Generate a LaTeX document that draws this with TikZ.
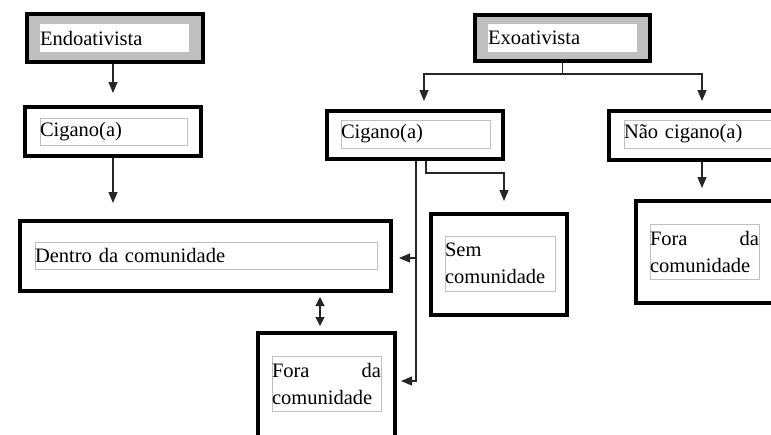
\documentclass[tikz,border=0pt]{standalone}
\usepackage{fontspec}
\setmainfont{Liberation Serif}
\usetikzlibrary{arrows.meta,positioning,calc}

\begin{document}
\begin{tikzpicture}[x=1pt,y=-1pt,
    outer/.style={draw=black,line width=4pt,fill=white,inner sep=0pt},
    head/.style={outer,fill=black!25},
    txt/.style={draw=black!25,line width=0.8pt,fill=white,inner sep=0pt,align=left,
        font=\fontsize{20.5}{27}\selectfont},
    link/.style={line width=1.2pt,black!85},
    arr/.style={link,-{Triangle[length=11pt,width=9pt]}},
    arrs/.style={link,{Triangle[length=9pt,width=9pt]}-{Triangle[length=9pt,width=9pt]}}]
    \useasboundingbox (0,0) rectangle (771,434);
    \clip (0,0) rectangle (771,434);

    % Heads
    \node[head,minimum width=176pt,minimum height=48pt] (endo) at (115,38) {};
    \node[txt,draw=none,text width=149pt,minimum height=28pt] (endoT) at (114.5,38) {Endoativista};
    \node[head,minimum width=175pt,minimum height=46pt] (exo) at (562.5,38) {};
    \node[txt,draw=none,text width=149pt,minimum height=28pt] (exoT) at (562.5,38) {Exoativista};

    % Second row
    \node[outer,minimum width=176pt,minimum height=49pt] (cigL) at (113,131.5) {};
    \node[txt,text width=147pt,minimum height=27pt] (cigLT) at (113.5,131.5) {Cigano(a)};
    \node[outer,minimum width=176pt,minimum height=48pt] (cigM) at (415,135) {};
    \node[txt,text width=149pt,minimum height=28pt] (cigMT) at (415.5,134) {Cigano(a)};
    \node[outer,minimum width=180pt,minimum height=49pt] (nao) at (699,135.5) {};
    \node[txt,text width=160pt,minimum height=28pt] (naoT) at (704,134) {Não cigano(a)};

    % Third row
    \node[outer,minimum width=371pt,minimum height=70pt] (dentro) at (205.5,256) {};
    \node[txt,text width=342pt,minimum height=27pt] (dentroT) at (206,255.5) {Dentro da comunidade};
    \node[outer,minimum width=136pt,minimum height=101pt] (sem) at (499,264.5) {};
    \node[txt,text width=110pt,minimum height=55pt] (semT) at (500,263.5) {Sem\\comunidade};
    \node[outer,minimum width=137pt,minimum height=102pt] (foraR) at (704.5,252) {};
    \node[txt,text width=109pt,minimum height=55pt] (foraRT) at (704.5,251.5) {Fora\hfill da\\comunidade};

    % Bottom
    \node[outer,minimum width=137pt,minimum height=120pt] (foraL) at (326.5,393) {};
    \node[txt,text width=109pt,minimum height=55pt] (foraLT) at (326.5,383.5) {Fora\hfill da\\comunidade};

    % Endoativista branch
    \draw[arr] (endo.south -| cigL.north) -- ($(cigL.north)+(0,-12)$);
    \draw[arr] (cigL.south) -- ($(cigL.south |- dentro.north)+(0,-16)$);

    % Exoativista branch
    \coordinate (exoJ) at ($(exo.south)+(0,11)$);
    \draw[link] (exo.south) -- (exoJ);
    \draw[arr] (exoJ) -| ($(cigM.north)+(9,-8)$);
    \draw[arr] (exoJ) -| ($(nao.north)+(3,-8)$);
    \draw[arr] ($(nao.south)+(3,0)$) -- ($(nao.south |- foraR.north)+(3,-11)$);

    % From Cigano(a)
    \coordinate (trunk) at ($(cigM.south)+(1,0)$);
    \draw[arr] (trunk) |- ($(foraL.north east)+(4,50)$);
    \draw[arr] ($(trunk |- dentro.east)+(0,2)$) -- ($(dentro.east)+(6,2)$);
    \draw[arr] ($(cigM.south)+(11,0)$) -- ++(0,12) -| ($(sem.north)+(5,-11)$);
    \draw[arrs] ($(dentro.south -| foraL.north)+(-6.5,4)$) -- ($(foraL.north)+(-6.5,-5)$);
\end{tikzpicture}
\end{document}
